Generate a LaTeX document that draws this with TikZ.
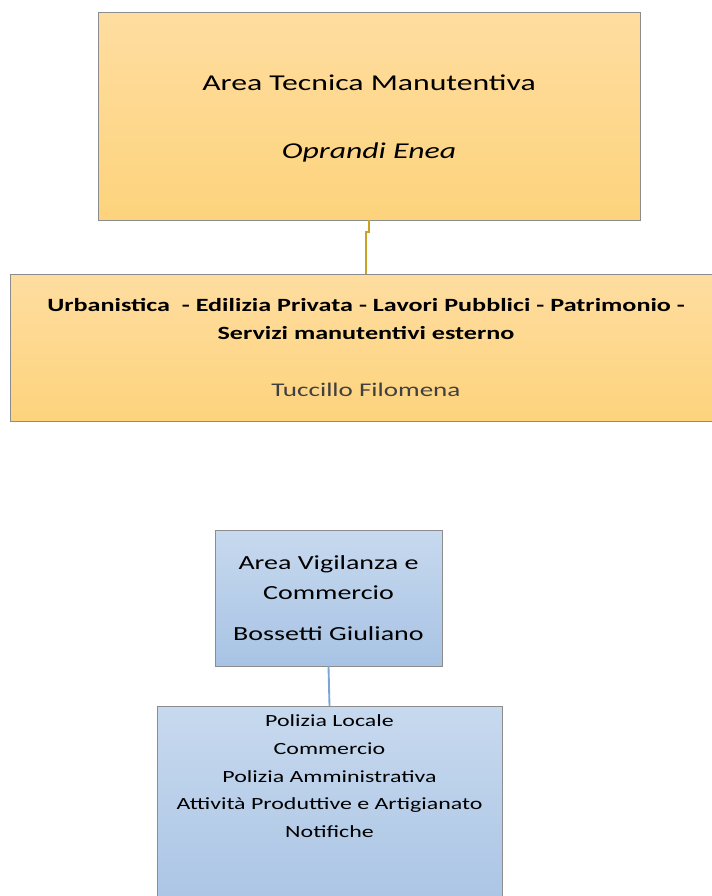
\documentclass[tikz,border=0pt]{standalone}
\usepackage{xcolor}
\usepackage{fontspec}
\setmainfont{Carlito}[FakeStretch=1.4]
\usepackage{tikz}

\definecolor{orgtop}{HTML}{FEDDA0}
\definecolor{orgbot}{HTML}{FDD37C}
\definecolor{blutop}{HTML}{C7D9EE}
\definecolor{blubot}{HTML}{A8C3E4}
\definecolor{boxline}{HTML}{8C8C8C}
\definecolor{orgwire}{HTML}{C9A227}
\definecolor{bluwire}{HTML}{7BA5D6}
\definecolor{namegray}{HTML}{404040}

\begin{document}
\begin{tikzpicture}[x=0.75pt,y=-0.75pt,
				orgbox/.style={rectangle,draw=boxline,top color=orgtop,bottom color=orgbot,align=center,inner sep=0pt},
				blubox/.style={rectangle,draw=boxline,top color=blutop,bottom color=blubot,align=center,inner sep=0pt},
				orgwire/.style={draw=orgwire,line width=1.2pt},
				bluwire/.style={draw=bluwire,line width=1.4pt}]
				
				\useasboundingbox (0,0) rectangle (712,896);
				
				% Area tecnica
				\node[orgbox,minimum width=542*0.75pt,minimum height=208*0.75pt,
				      font=\fontsize{17}{20}\selectfont] (tech) at (369,116)
				{\rule{0pt}{16pt}Area Tecnica Manutentiva\\[31pt] \itshape Oprandi Enea};
				
				\node[orgbox,minimum width=712*0.75pt,minimum height=147*0.75pt,
				      font=\fontsize{14}{21}\selectfont] (urb) at (366,347.5)
				{\bfseries Urbanistica~~- Edilizia Privata - Lavori Pubblici - Patrimonio -\\
				 \bfseries Servizi manutentivi esterno\\[22pt]
				 \fontsize{14.5}{21}\selectfont\color{namegray} Tuccillo Filomena};
				
				% Area vigilanza
				\node[blubox,minimum width=227*0.75pt,minimum height=136*0.75pt,
				      font=\fontsize{15}{22.5}\selectfont] (vig) at (328.5,598)
				{Area Vigilanza e\\ Commercio\\[8pt] Bossetti Giuliano};
				
				\node[blubox,minimum width=345*0.75pt,minimum height=220*0.75pt,anchor=north] (pol) at (329.5,706) {};
				\node[align=center,anchor=north,inner sep=0pt,
				      font=\fontsize{12.8}{20.8}\selectfont] (poltxt) at (329.5,714.5)
				{Polizia Locale\\ Commercio\\ Polizia Amministrativa\\
				 Attività Produttive e Artigianato\\ Notifiche};
				
				% Connections
				\draw[orgwire] (tech.south) -- ++(0,12) -| (urb.north);
				\draw[bluwire] (vig.south) -- (pol.north);
			\end{tikzpicture}
\end{document}
